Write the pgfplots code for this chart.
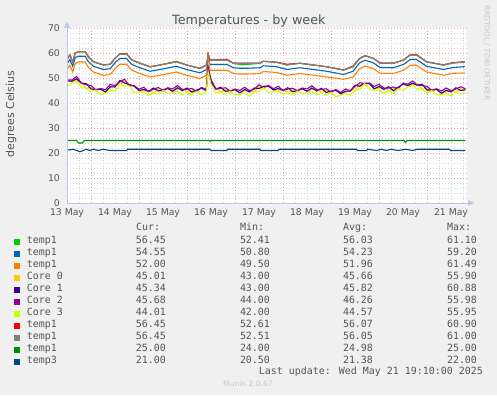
\documentclass[border=0pt]{standalone}
\usepackage{pgfplots}
\pgfplotsset{compat=1.18}
\usepackage{pgfplotstable}
\usepackage{fontspec}
\setmainfont{DejaVu Sans}
\newfontfamily\mono{DejaVu Sans Mono}
\usetikzlibrary{arrows.meta}
\definecolor{mgreen}{HTML}{00CC00}
\definecolor{mblue}{HTML}{0066B3}
\definecolor{morange}{HTML}{FF8000}
\definecolor{myellow}{HTML}{FFCC00}
\definecolor{mindigo}{HTML}{330099}
\definecolor{mpurple}{HTML}{990099}
\definecolor{mlime}{HTML}{CCFF00}
\definecolor{mred}{HTML}{FF0000}
\definecolor{mgrey}{HTML}{808080}
\definecolor{mdgreen}{HTML}{008F00}
\definecolor{mnavy}{HTML}{00487D}
\definecolor{bg}{HTML}{F0F0F0}
\definecolor{txt}{HTML}{555555}
\definecolor{faint}{HTML}{C8C8C8}
\definecolor{axcol}{HTML}{C0C4F0}
\definecolor{mgrid}{HTML}{E8A0A0}
\definecolor{ngrid}{HTML}{D4D4D4}

\pgfplotstableread{
t    g     b     o     r     y
0.49 57.2  55.4  53.1  57.2  57.2
0.56 59.2  57.4  55.1  59.2  59.2
0.62 56.5  54.7  52.4  56.5  56.5
0.67 60.0  58.2  55.9  60.0  60.0
0.74 60.5  58.7  56.4  60.6  60.5
0.88 60.5  58.7  56.4  60.5  60.5
0.94 58.5  56.7  54.4  58.8  58.5
1.05 56.5  54.7  52.4  56.5  56.5
1.26 55.2  53.4  51.1  55.2  55.2
1.40 55.5  53.7  51.4  55.5  55.5
1.50 57.9  56.1  53.8  57.9  57.9
1.60 59.6  57.8  55.5  59.6  59.6
1.74 59.6  57.8  55.5  59.8  59.6
1.85 57.2  55.4  53.1  57.2  57.2
2.02 55.9  54.1  51.8  55.9  55.9
2.23 54.5  52.7  50.4  54.5  54.5
2.44 55.2  53.4  51.1  55.2  55.2
2.78 56.7  54.7  52.4  56.5  56.5
2.99 55.2  53.4  51.1  55.2  55.2
3.27 53.9  52.1  49.8  53.9  53.9
3.41 55.2  53.4  51.1  55.2  55.2
3.44 59.5  58.0  60.5  59.5  59.5
3.48 57.2  55.4  53.1  57.2  57.2
3.83 57.2  55.4  53.1  57.5  57.2
3.97 55.9  54.1  51.8  55.9  55.9
4.10 55.4  53.9  51.6  55.9  55.9
4.25 55.4  53.9  51.6  55.9  55.9
4.52 55.9  54.1  51.8  55.9  55.9
4.59 56.7  54.9  52.6  56.7  56.7
4.87 56.3  54.5  52.2  56.3  56.3
5.08 55.2  53.4  51.1  55.5  55.2
5.35 55.9  54.1  51.8  55.9  55.9
5.63 55.2  53.4  51.1  55.2  55.2
5.91 54.5  52.7  50.4  54.5  54.5
6.26 53.2  51.4  49.5  53.2  53.2
6.46 54.5  52.7  50.4  54.8  54.5
6.60 57.9  56.1  53.8  57.9  57.9
6.71 58.9  57.1  54.8  58.9  58.9
6.88 57.9  56.1  53.8  57.9  57.9
7.02 56.0  54.2  51.9  56.0  56.0
7.30 55.9  54.1  51.8  55.9  55.9
7.51 57.2  55.4  53.1  57.2  57.2
7.65 59.2  57.4  55.1  59.2  59.2
7.78 59.2  57.4  55.1  59.4  59.2
7.99 56.5  54.7  52.4  56.5  56.5
8.34 55.2  53.4  51.1  55.2  55.2
8.55 56.0  54.2  51.9  56.2  56.0
8.79 56.45 54.55 52.0  56.45 56.45
}\toptable

\pgfplotstableread{
t    c0    c1    c2    c3
0.49 49.1  48.9  49.2  46.3
0.6  48.7  48.7  49.2  48.1
0.7  49.1  49.7  50.6  48.7
0.8  48.4  47.9  47.9  46.3
0.9  45.8  47.8  47.3  45.8
1.0  46.3  45.6  47.0  44.4
1.1  44.8  45.4  45.3  45.2
1.2  45.7  45.5  45.8  43.4
1.3  44.3  44.4  45.3  43.8
1.4  45.9  46.5  47.4  45.1
1.5  47.3  46.4  46.9  44.8
1.6  47.4  49.0  48.5  47.4
1.7  48.8  48.0  49.5  46.9
1.8  46.8  47.4  46.9  46.8
1.9  46.9  46.7  47.0  44.1
2.0  45.0  45.0  45.5  44.4
2.1  44.8  45.4  46.3  44.4
2.2  45.1  44.6  44.6  43.0
2.3  44.0  46.0  45.5  44.0
2.4  45.5  44.8  46.2  43.6
2.5  44.6  45.2  45.1  45.0
2.6  46.0  45.8  46.1  43.7
2.7  44.6  44.7  45.6  44.1
2.8  45.5  46.1  47.0  44.7
2.9  45.8  44.9  45.4  43.3
3.0  44.4  46.0  45.5  44.4
3.1  45.1  44.3  45.8  43.2
3.2  44.6  45.2  44.7  44.6
3.3  46.1  45.9  46.2  43.3
3.4  45.0  45.0  45.5  44.4
3.44 53.0  54.5  54.0  52.5
3.5  47.9  48.5  49.4  47.5
3.6  46.1  45.6  45.6  44.0
3.7  44.3  46.3  45.8  44.3
3.8  45.4  44.7  46.1  43.5
3.9  44.3  44.9  44.8  44.7
4.0  45.5  45.3  45.6  43.2
4.1  44.0  44.1  45.0  43.5
4.2  44.8  45.4  46.3  44.0
4.3  45.3  44.4  44.9  42.8
4.4  44.4  46.0  45.5  44.4
4.5  46.6  45.8  47.3  44.7
4.6  46.1  46.7  46.2  46.1
4.7  46.9  46.7  47.0  44.1
4.8  45.2  45.2  45.7  44.6
4.9  45.2  45.8  46.7  44.8
5.0  45.5  45.0  45.0  43.4
5.1  44.1  46.1  45.6  44.1
5.2  45.2  44.5  45.9  43.3
5.3  44.4  45.0  44.9  44.8
5.4  45.9  45.7  46.0  43.6
5.5  44.6  44.7  45.6  44.1
5.6  45.4  46.0  46.9  44.6
5.7  45.7  44.8  45.3  43.2
5.8  44.3  45.9  45.4  44.3
5.9  45.0  44.2  45.7  43.1
6.0  44.2  44.8  44.3  44.2
6.1  45.3  45.1  45.4  42.5
6.2  43.7  43.7  44.2  43.1
6.3  44.1  44.7  45.6  43.7
6.4  45.3  44.8  44.8  43.2
6.5  45.1  47.1  46.6  45.1
6.6  47.4  46.7  48.1  45.5
6.7  47.3  47.9  47.8  47.7
6.8  47.9  47.7  48.0  45.6
6.9  45.6  45.7  46.6  45.1
7.0  46.0  46.6  47.5  45.2
7.1  46.3  45.4  45.9  43.8
7.2  44.9  46.5  46.0  44.9
7.3  45.7  44.9  46.4  43.8
7.4  45.7  46.3  45.8  45.7
7.5  47.8  47.6  47.9  45.0
7.6  47.0  47.0  47.5  46.4
7.7  47.3  47.9  48.8  46.9
7.8  47.6  47.1  47.1  45.5
7.9  45.5  47.5  47.0  45.5
8.0  45.9  45.2  46.6  44.0
8.1  44.6  45.2  45.1  45.0
8.2  45.6  45.4  45.7  43.3
8.3  43.8  43.9  44.8  43.3
8.4  44.5  45.1  46.0  43.7
8.5  45.3  44.4  44.9  42.8
8.6  44.5  46.1  45.6  44.5
8.7  45.8  45.0  46.5  43.9
8.8  45.0  45.3  45.7  44.0
}\coretable

\pgfplotstableread{
t    v
0.49 25
0.70 25
0.74 24
0.82 24
0.86 25
3.46 25
3.48 24.7
3.50 25
7.52 25
7.55 24.2
7.58 25
8.80 25
}\mbtable

\pgfplotstableread{
t    v
0.49 21.5
0.55 21.2
0.62 21.5
0.70 21.0
0.77 20.5
0.84 21.0
0.90 21.5
0.97 21.0
1.05 21.5
1.15 21.0
1.25 21.5
1.40 21.0
1.74 21.0
1.76 21.5
3.48 21.5
3.50 21.0
3.83 21.0
3.85 21.5
4.52 21.5
4.54 21.0
4.90 21.0
4.92 21.5
6.53 21.5
6.55 21.0
6.74 21.0
6.76 21.5
6.95 21.0
7.05 21.5
7.15 21.0
7.25 21.5
7.40 21.0
7.55 21.5
7.70 21.0
7.80 21.5
8.47 21.5
8.49 21.0
8.80 21.0
}\tthreetable

\newcommand{\lrow}[5]{\makebox[109bp][l]{#1}\makebox[104bp][l]{#2}\makebox[103bp][l]{#3}\makebox[104bp][l]{#4}#5}

\begin{document}
\begin{tikzpicture}[x=1bp,y=1bp]
\fill[bg] (0,0) rectangle (497,395);
\useasboundingbox (0,0) rectangle (497,395);

\begin{axis}[
  name=ax,
  at={(67bp,192bp)}, anchor=south west,
  scale only axis, width=400bp, height=175bp,
  xmin=0.5, xmax=8.8333, ymin=0, ymax=70,
  axis line style={draw=none},
  axis background/.style={fill=white},
  ytick={0,10,...,70},
  minor y tick num=4,
  xtick={1,2,3,4,5,6,7,8},
  xticklabels={},
  minor xtick={0.75,1.25,1.5,1.75,2.25,2.5,2.75,3.25,3.5,3.75,4.25,4.5,4.75,5.25,5.5,5.75,6.25,6.5,6.75,7.25,7.5,7.75,8.25,8.5,8.75},
  extra x ticks={0.5,1.5,2.5,3.5,4.5,5.5,6.5,7.5,8.5},
  extra x tick labels={13 May,14 May,15 May,16 May,17 May,18 May,19 May,20 May,21 May},
  extra x tick style={grid=none},
  grid=both,
  major grid style={draw=mgrid, line width=0.8bp, dash pattern=on 1bp off 2bp},
  minor grid style={draw=ngrid, line width=0.8bp, dash pattern=on 1bp off 2bp},
  major tick length=0pt, minor tick length=0pt,
  tick style={draw=none},
  /pgf/number format/assume math mode=true,
  tick label style={font=\fontsize{9.3}{11}\selectfont, text=txt},
  yticklabel style={anchor=east, inner sep=0pt, xshift=-7bp},
  xticklabel style={anchor=north, inner sep=0pt, yshift=-5.5bp},
  every axis plot/.append style={line width=1.1bp, mark=none},
  legend cell align=left,
  legend image code/.code={\fill[#1,draw=none] (0bp,-3bp) rectangle (6bp,3bp);},
  legend style={
    at={(-0.1325,-0.1863)}, anchor=north west,
    draw=none, fill=none, inner sep=0pt, outer sep=0pt,
    row sep=0pt, column sep=7bp,
    font=\mono\fontsize{10}{12}\selectfont, text=txt,
    nodes={inner sep=0pt, text height=8bp, text depth=4bp},
  },
]
\addplot[mgreen]   table[x=t,y=g]  {\toptable};
\addlegendentry{\lrow{temp1}{56.45}{52.41}{56.03}{61.10}}
\addplot[mblue]    table[x=t,y=b]  {\toptable};
\addlegendentry{\lrow{temp1}{54.55}{50.80}{54.23}{59.20}}
\addplot[morange]  table[x=t,y=o]  {\toptable};
\addlegendentry{\lrow{temp1}{52.00}{49.50}{51.96}{61.49}}
\addplot[myellow]  table[x=t,y=c0] {\coretable};
\addlegendentry{\lrow{Core 0}{45.01}{43.00}{45.66}{55.90}}
\addplot[mindigo]  table[x=t,y=c1] {\coretable};
\addlegendentry{\lrow{Core 1}{45.34}{43.00}{45.82}{60.88}}
\addplot[mpurple]  table[x=t,y=c2] {\coretable};
\addlegendentry{\lrow{Core 2}{45.68}{44.00}{46.26}{55.98}}
\addplot[mlime]    table[x=t,y=c3] {\coretable};
\addlegendentry{\lrow{Core 3}{44.01}{42.00}{44.57}{55.95}}
\addplot[mred]     table[x=t,y=r]  {\toptable};
\addlegendentry{\lrow{temp1}{56.45}{52.61}{56.07}{60.90}}
\addplot[mgrey]    table[x=t,y=y]  {\toptable};
\addlegendentry{\lrow{temp1}{56.45}{52.51}{56.05}{61.00}}
\addplot[mdgreen]  table[x=t,y=v]  {\mbtable};
\addlegendentry{\lrow{temp1}{25.00}{24.00}{24.98}{25.00}}
\addplot[mnavy]    table[x=t,y=v]  {\tthreetable};
\addlegendentry{\lrow{temp3}{21.00}{20.50}{21.38}{22.00}}
\end{axis}

\draw[axcol, line width=1bp, -{Triangle[length=6bp,width=6bp]}] (ax.south west) -- ++(407,0);
\draw[axcol, line width=1bp, -{Triangle[length=6bp,width=6bp]}] (ax.south west) -- ++(0,181);

\node[anchor=base, text=txt, font=\fontsize{12.8}{15}\selectfont, inner sep=0pt] at (248.9,370.7) {Temperatures - by week};
\node[rotate=90, text=txt, font=\fontsize{11}{13}\selectfont, inner sep=0pt] at (11,281) {degrees Celsius};
\node[rotate=-90, text=faint, font=\fontsize{7.45}{9}\selectfont, inner sep=0pt] at (487,342) {RRDTOOL / TOBI OETIKER};

\begin{scope}[every node/.style={anchor=base west, text=txt, font=\mono\fontsize{10}{12}\selectfont, inner sep=0pt}]
\node at (136,164.4) {Cur:};
\node at (240,164.4) {Min:};
\node at (343,164.4) {Avg:};
\node at (447,164.4) {Max:};
\end{scope}
\node[anchor=base east, text=txt, font=\mono\fontsize{10}{12}\selectfont, inner sep=0pt] at (483,20.4) {Last update: Wed May 21 19:10:00 2025};
\node[text=faint, font=\fontsize{7.6}{9}\selectfont, inner sep=0pt] at (248,11) {Munin 2.0.67};
\end{tikzpicture}
\end{document}
